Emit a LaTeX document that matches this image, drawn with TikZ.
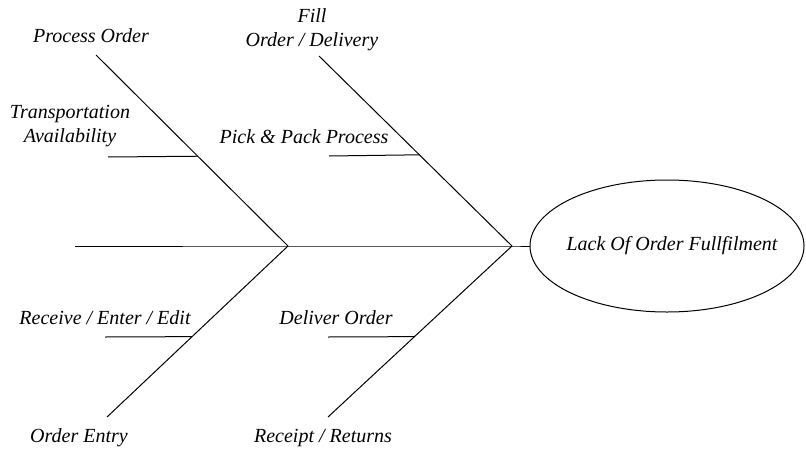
\documentclass[tikz,border=0pt]{standalone}
\usepackage{fontspec}
\setmainfont{Liberation Serif}
\usetikzlibrary{shapes.geometric,calc}
\begin{document}
\begin{tikzpicture}[x=0.5pt, y=-0.5pt,
    bone/.style={line width=0.5pt},
    cause/.style={font=\fontsize{10}{12}\selectfont\itshape, align=center, inner sep=0pt}]
    \useasboundingbox (0,0) rectangle (806,449);
    % spine and head
    \coordinate (tail) at (75,246);
    \coordinate (jl) at (288,246);
    \coordinate (jr) at (512,246);
    \node[draw, ellipse, bone, minimum width=137pt, minimum height=66pt] (effect) at (667,246) {};
    \node[cause] (effecttxt) at (672,246) {Lack Of Order Fullfilment};
    \draw[bone] (tail) -- (jl) -- (jr) -- (effect.west);

    % bone ends
    \coordinate (po) at (96,55);
    \coordinate (fo) at (319,56);
    \coordinate (oe) at (107,417);
    \coordinate (rr) at (328,417);
    \draw[bone] (po) -- (jl) -- (oe);
    \draw[bone] (fo) -- (jr) -- (rr);

    % sub bones
    \coordinate (ta) at (108,157);
    \coordinate (pp) at (329,156);
    \coordinate (re) at (105,337);
    \coordinate (do) at (328,337);
    \draw[bone] (ta) -- ($(po)!0.53!(jl)$);
    \draw[bone] (pp) -- ($(fo)!0.52!(jr)$);
    \draw[bone] (re) -- ($(oe)!0.47!(jl)$);
    \draw[bone] (do) -- ($(rr)!0.47!(jr)$);

    % 1. labels
    \node[cause] (polbl) at (91,36) {Process Order};
    \node[cause] (folbl) at (312,30) {Fill\\Order / Delivery};
    \node[cause] (talbl) at (70,126) {Transportation\\Availability};
    \node[cause] (pplbl) at (304,137) {Pick \& Pack Process};
    \node[cause] (relbl) at (105,318) {Receive / Enter / Edit};
    \node[cause] (dolbl) at (336,318) {Deliver Order};
    \node[cause] (oelbl) at (79,438) {Order Entry};
    \node[cause] (rrlbl) at (323,438) {Receipt / Returns};
\end{tikzpicture}
\end{document}
